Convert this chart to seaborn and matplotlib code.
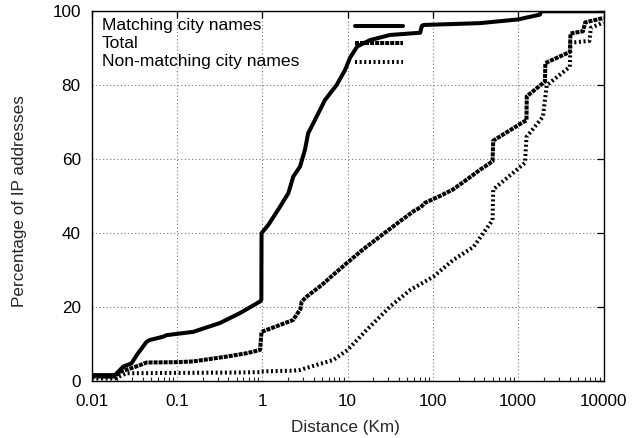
import matplotlib
matplotlib.use("Agg")
import matplotlib.pyplot as plt
from matplotlib.lines import Line2D
from matplotlib.ticker import FixedLocator, FixedFormatter, LogLocator, NullFormatter
import seaborn as sns
import pandas as pd

# ---- data ----
series_names = ["Matching city names", "Total", "Non-matching city names"]

match_x = [0.01, 0.0188, 0.0234, 0.0294, 0.0337, 0.044, 0.0482, 0.069, 0.0755, 0.155,
           0.32, 0.55, 0.94, 0.975, 0.98, 1.175, 1.61, 2.02, 2.31, 2.77, 3.16, 3.45, 3.78,
           5.43, 7.45, 9.33, 10.7, 13, 18.3, 31.4, 71, 74, 77.5, 357, 1000, 1800, 1850, 10000]
match_y = [1.6, 1.6, 3.9, 4.8, 7.0, 10.6, 11.1, 12.0, 12.4, 13.3,
           15.7, 18.4, 21.5, 22.0, 40, 42.2, 47.1, 50.8, 55.3, 58, 62.5, 67, 68.8,
           76, 80.1, 84.1, 87.5, 90.5, 92.2, 93.6, 94.2, 96.0, 96.3, 96.8, 97.8, 99.1, 100, 100]

total_x = [0.01, 0.0188, 0.0214, 0.0294, 0.0368, 0.044, 0.1, 0.155, 0.38, 0.65, 0.94, 0.98,
           2.3, 2.8, 2.9, 3.3, 5, 7, 9.8, 15, 24, 40, 60, 72, 80.7, 120, 172, 250, 350, 500,
           510, 1135, 1250, 1260, 2060, 2080, 4035, 4100, 5750, 6100, 10000]
total_y = [1.2, 1.2, 2.5, 3.5, 4.3, 5.0, 5.1, 5.3, 6.6, 7.5, 8.4, 13.3,
           16.5, 19.5, 21.5, 22.8, 26, 29, 31.9, 35.5, 39.1, 43, 46, 47, 48.2, 50, 51.8, 54.5, 57, 59.4,
           65, 70, 70.5, 77, 81, 86, 89, 94, 94.6, 97, 98.2]

non_x = [0.01, 0.0188, 0.0257, 0.1, 0.5, 0.95, 0.98, 2.3, 2.76, 6.8, 10, 16.7, 31.4, 54, 101,
         172, 300, 500, 510, 1200, 1250, 1950, 2160, 4035, 4100, 6840, 7100, 10000]
non_y = [0.7, 0.7, 2.1, 2.2, 2.3, 2.4, 2.6, 2.8, 3.0, 5.7, 8.4, 13.8, 20.1, 24.6, 28.2,
         32.7, 36.3, 43.5, 51.8, 59, 66, 71.5, 80, 85, 91.5, 92, 95.5, 97]

x_ticks = [0.01, 0.1, 1, 10, 100, 1000, 10000]
x_tick_labels = ["0.01", "0.1", "1", "10", "100", "1000", "10000"]
y_ticks = [0, 20, 40, 60, 80, 100]
y_tick_labels = ["0", "20", "40", "60", "80", "100"]

# ---- build long table ----
frames = []
for name, xs, ys in zip(series_names, [match_x, total_x, non_x], [match_y, total_y, non_y]):
    frames.append(pd.DataFrame({"distance": xs, "percent": ys, "series": name}))
df = pd.concat(frames, ignore_index=True)

sns.set_style("white")
plt.rcParams["font.family"] = ["Liberation Sans", "DejaVu Sans"]

fig = plt.figure(figsize=(6.34, 4.38), dpi=100)
ax = fig.add_axes([0.1446, 0.1301, 0.8073, 0.8441])

LW = 2.9
dash_map = {"Matching city names": "",
            "Total": (1.0, 0.25),
            "Non-matching city names": (0.5, 0.65)}

sns.lineplot(data=df, x="distance", y="percent", style="series", style_order=series_names,
             dashes=dash_map, color="black", estimator=None, sort=False, legend=False,
             linewidth=LW, ax=ax, zorder=3)

ax.set_xscale("log")
ax.set_xlim(0.01, 10000)
ax.set_ylim(0, 100)

ax.xaxis.set_major_locator(FixedLocator(x_ticks))
ax.xaxis.set_major_formatter(FixedFormatter(x_tick_labels))
ax.xaxis.set_minor_locator(LogLocator(base=10, subs=range(2, 10), numticks=20))
ax.xaxis.set_minor_formatter(NullFormatter())
ax.yaxis.set_major_locator(FixedLocator(y_ticks))
ax.yaxis.set_major_formatter(FixedFormatter(y_tick_labels))

ax.tick_params(axis="both", which="major", direction="in", length=5, width=0.9,
               labelsize=12.3, color="black", labelcolor="black")
ax.tick_params(axis="x", which="major", pad=9.5, top=True)
ax.tick_params(axis="y", which="major", pad=7.8, right=True)
ax.tick_params(axis="x", which="minor", direction="in", length=3, width=0.8, bottom=True, top=False)

ax.grid(True, which="major", color="#777777", linestyle=(0, (1, 2.2)), linewidth=0.8, zorder=0)
ax.set_axisbelow(True)

for sp in ax.spines.values():
    sp.set_color("black")
    sp.set_linewidth(1.0)
    sp.set_visible(True)

ax.set_xlabel("Distance (Km)", fontsize=12.3)
ax.set_ylabel("Percentage of IP addresses", fontsize=12.3)
ax.xaxis.set_label_coords(0.496, -0.1055)
ax.yaxis.set_label_coords(-0.126, 0.488)

# ---- gnuplot-style key: left-justified text, sample line to the right ----
key_y = [0.961, 0.9134, 0.8637]
for name, ky in zip(series_names, key_y):
    ax.text(0.0195, ky, name, transform=ax.transAxes, ha="left", va="center",
            fontsize=12.6, color="black")
    d = dash_map[name]
    ln = Line2D([0.5145, 0.608], [ky, ky], transform=ax.transAxes, color="black",
                linewidth=LW)
    if d:
        ln.set_dashes(d)
    ax.add_line(ln)

fig.savefig("out.png", dpi=100)
